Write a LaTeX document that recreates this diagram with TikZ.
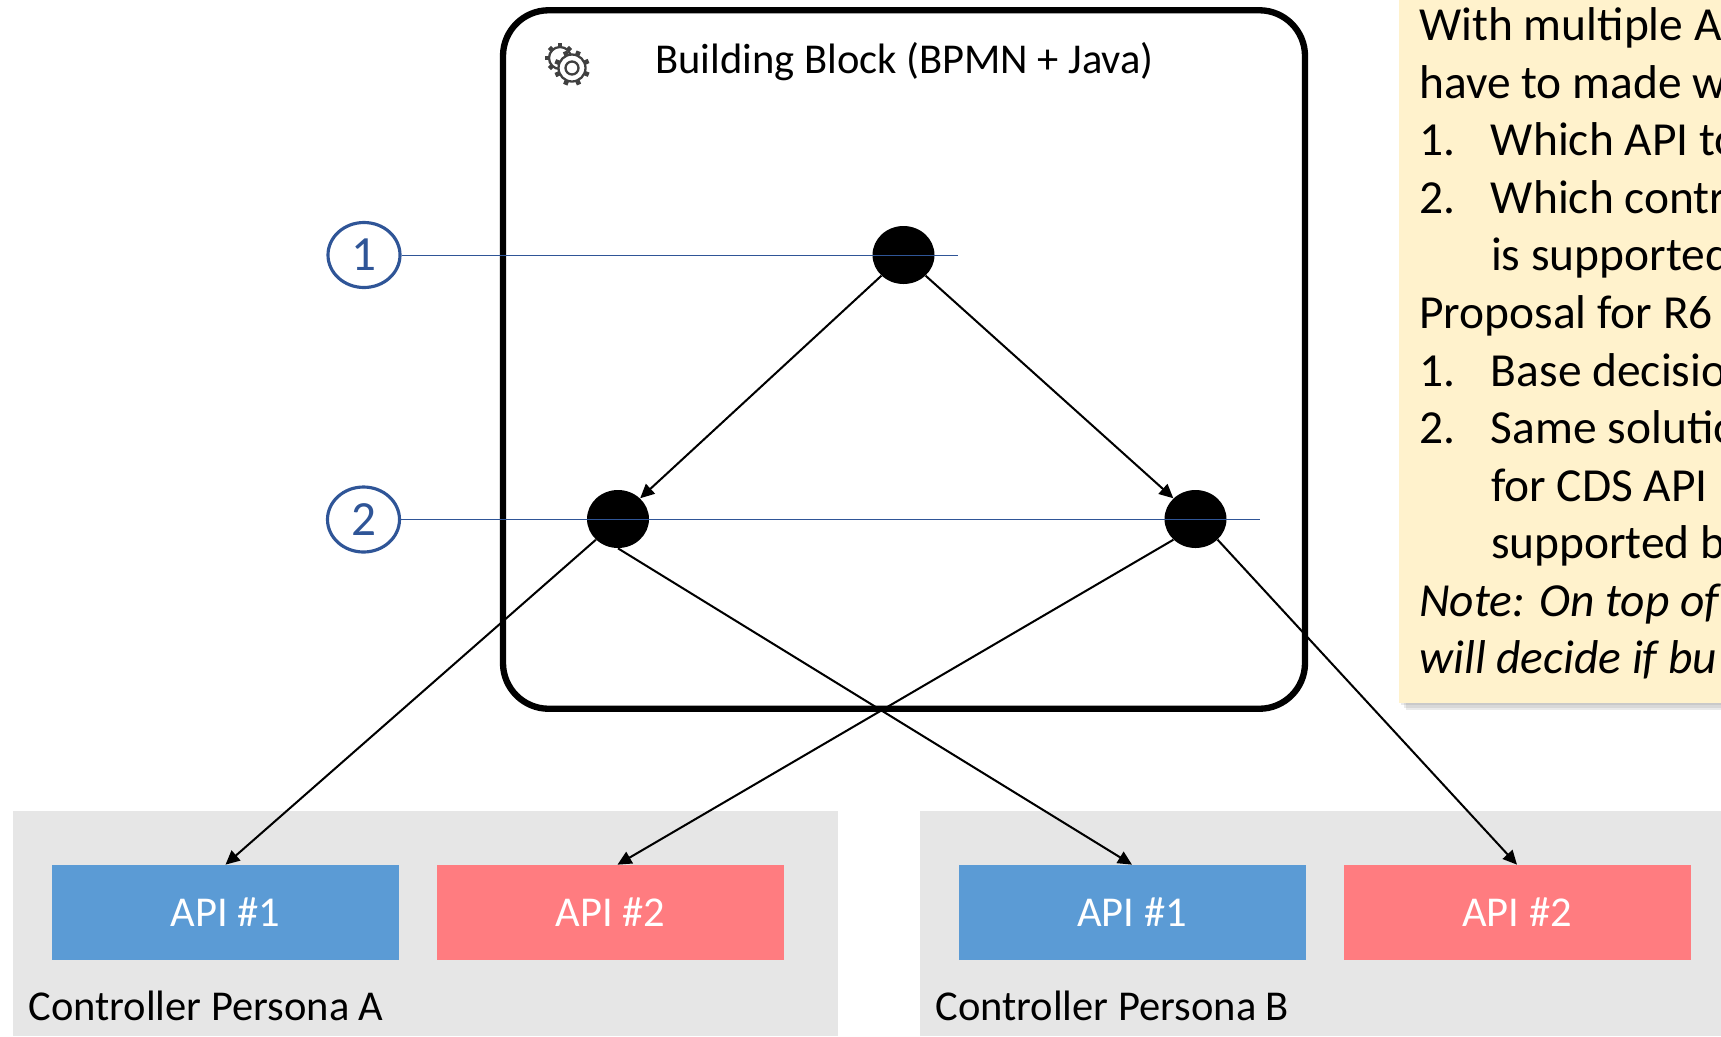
\documentclass[tikz,border=0pt]{standalone}
\usepackage{fontspec}
\setmainfont{Carlito}
\usetikzlibrary{positioning, arrows.meta, shadows, shapes.geometric}
\definecolor{notefill}{HTML}{FFF2CC}
\definecolor{apiblue}{HTML}{5B9BD5}
\definecolor{apired}{HTML}{FF7C80}
\definecolor{markblue}{HTML}{2F5597}
\definecolor{personagray}{HTML}{E6E6E6}
\definecolor{gearcolor}{HTML}{404040}
\newcommand{\noteitem}[1]{\makebox[40.8pt][l]{#1}}
\newcommand{\noteindent}{\hspace*{40.8pt}}
\tikzset{
x=0.02cm, y=-0.02cm, % one unit is one pixel of the reference
>={Triangle[length=8pt, width=7.5pt]}, % filled heads on the flow arrows
flow/.style={->, line width=1.15pt, black}, % arrows between tasks and APIs
task/.style={ellipse, fill=black, minimum width=62*0.02cm, minimum height=58*0.02cm, inner sep=0pt}, % black task dots
marker/.style={ellipse, draw=markblue, line width=1.8pt, text=markblue, minimum width=72*0.02cm, minimum height=65*0.02cm, inner sep=0pt, font=\fontsize{28}{32}\selectfont}, % numbered circles
markline/.style={draw=markblue, line width=0.55pt}, % thin lines from the numbered circles
api/.style={minimum width=347*0.02cm, minimum height=95*0.02cm, inner sep=0pt, text=white, font=\fontsize{24.2}{28}\selectfont}, % API boxes
persona/.style={fill=personagray, minimum height=225*0.02cm, anchor=north west, inner sep=0pt}, % gray controller areas
label/.style={inner sep=0pt, font=\fontsize{24.2}{28}\selectfont}, % captions
gear/.style={fill=white, draw=gearcolor, line width=1.3pt}, % cog bodies
}

\begin{document}
\begin{tikzpicture}
    \useasboundingbox (0,0) rectangle (1721,1036);

    \node[persona, minimum width=825*0.02cm] (personaA) at (13,811) {};
    \node[persona, minimum width=900*0.02cm] (personaB) at (920,811) {};

    \node[draw=black, line width=3.6pt, rounded corners=26pt, minimum width=802*0.02cm, minimum height=698.5*0.02cm, inner sep=0pt] (block) at (904,359.5) {};
    \node[label, anchor=center] (blocktitle) at (904.5,62) {Building Block (BPMN + Java)};

    % cog icon
    \begin{scope}[shift={(560,58)}]
        \foreach \a in {0,45,...,315}
            \draw[gearcolor, line width=2.6pt] (\a:8) -- (\a:15);
        \draw[gear] (0,0) circle (11);
    \end{scope}
    \begin{scope}[shift={(572,68)}]
        \foreach \a in {22,67,...,337}
            \draw[gearcolor, line width=2.6pt] (\a:10) -- (\a:18);
        \draw[gear] (0,0) circle (13.5);
        \draw[gear] (0,0) circle (6.5);
    \end{scope}

    \node[fill=notefill, drop shadow={shadow xshift=1.2pt, shadow yshift=-1.2pt, opacity=0.17}, drop shadow={shadow xshift=2.4pt, shadow yshift=-2.4pt, opacity=0.17}, drop shadow={shadow xshift=3.6pt, shadow yshift=-3.6pt, opacity=0.17}, anchor=north west, minimum width=400*0.02cm, minimum height=800*0.02cm, inner sep=0pt] (notebox) at (1399,-97) {};
    \node[anchor=north west, inner sep=0pt, align=flush left, text width=1000*0.02cm, font=\fontsize{27}{32.75}\selectfont] (notetext) at (1419,7.5) {%
        With multiple A\\
        have to made w\\
        \noteitem{1.}Which API to\\
        \noteitem{2.}Which contr\\
        \noteindent is supported\\
        Proposal for R6\\
        \noteitem{1.}Base decisio\\
        \noteitem{2.}Same solutio\\
        \noteindent for CDS API\\
        \noteindent supported b\\
        \textit{Note: On top of}\\
        \textit{will decide if bu}};

    \node[task] (taskTop) at (903.5,255) {};
    \node[task] (taskLeft) at (618,519) {};
    \node[task] (taskRight) at (1195.5,519) {};

    \node[marker] (mark1) at (364,255) {1};
    \node[marker] (mark2) at (363.5,519.5) {2};
    \coordinate (end1) at (958,255);
    \coordinate (end2) at (1260,519.5);

    \node[api, fill=apiblue] (apiA1) at (225.5,912.5) {API \#1};
    \node[api, fill=apired, right of=apiA1, node distance=385*0.02cm] (apiA2) {API \#2};
    \node[api, fill=apiblue] (apiB1) at (1132,912.5) {API \#1};
    \node[api, fill=apired, right of=apiB1, node distance=385*0.02cm] (apiB2) {API \#2};

    \node[label, anchor=west] (labelA) at (28,1006) {Controller Persona A};
    \node[label, anchor=west] (labelB) at (935,1006) {Controller Persona B};

    \path[flow]
        (taskTop.south west) edge (taskLeft.north east)
        (taskTop.south east) edge (taskRight.north west)
        (taskLeft.south west) edge (apiA1.north)
        (taskLeft.south) edge (apiB1.north)
        (taskRight.south west) edge ([xshift=7*0.02cm]apiA2.north)
        (taskRight.south east) edge (apiB2.north)
        ;
    \draw[markline]
        (mark1) -- (end1)
        (mark2) -- (end2)
        ;
\end{tikzpicture}
\end{document}
